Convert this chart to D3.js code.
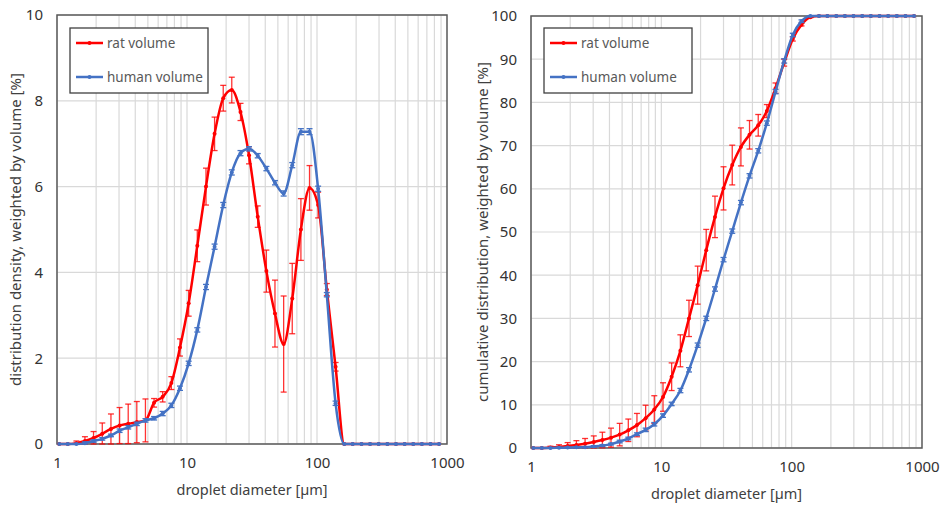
<!DOCTYPE html>
<html>
<head>
<meta charset="utf-8">
<script src="https://cdn.jsdelivr.net/npm/d3@7"></script>
<style>
  body { margin: 0; background: #fff; }
  svg { display: block; font-family: "Noto Sans", sans-serif; }
</style>
</head>
<body>
<svg width="941" height="507"></svg>
<script>
// droplet size classes [µm]
var diameters = [1.04, 1.21, 1.41, 1.64, 1.91, 2.23, 2.6, 3.03, 3.53, 4.11, 4.79, 5.58, 6.5, 7.58, 8.83,
  10.3, 12.0, 14.0, 16.3, 19.0, 22.1, 25.8, 30.0, 35.0, 40.8, 47.5, 55.4, 64.5, 75.2, 87.6,
  102, 119, 139, 162, 188, 220, 256, 298, 348, 405, 472, 550, 641, 747, 870];

// distribution density [%]
var ratDensity = [0, 0, 0.02, 0.07, 0.14, 0.24, 0.35, 0.43, 0.47, 0.51, 0.55, 0.96, 1.1, 1.42, 2.25,
  3.28, 4.62, 6.0, 7.23, 8.06, 8.25, 7.74, 6.73, 5.3, 4.03, 3.04, 2.33, 3.39, 5.0, 5.97,
  5.57, 3.6, 1.8, 0, 0, 0, 0, 0, 0, 0, 0, 0, 0, 0, 0];
var ratDensityErr = [0, 0, 0.05, 0.1, 0.15, 0.25, 0.35, 0.42, 0.46, 0.48, 0.5, 0.1, 0.12, 0.15, 0.2,
  0.3, 0.37, 0.43, 0.39, 0.3, 0.3, 0.2, 0.2, 0.25, 0.49, 0.78, 1.12, 0.82, 0.72, 0.52,
  0.3, 0.14, 0.1, 0, 0, 0, 0, 0, 0, 0, 0, 0, 0, 0, 0];
var humanDensity = [0, 0, 0, 0.02, 0.07, 0.12, 0.2, 0.31, 0.39, 0.47, 0.55, 0.6, 0.71, 0.9, 1.3,
  1.88, 2.66, 3.66, 4.6, 5.57, 6.33, 6.78, 6.88, 6.72, 6.42, 6.09, 5.84, 6.5, 7.28, 7.28,
  5.95, 3.48, 0.95, 0, 0, 0, 0, 0, 0, 0, 0, 0, 0, 0, 0];
var humanDensityErr = [0, 0, 0, 0.03, 0.03, 0.03, 0.03, 0.04, 0.04, 0.04, 0.04, 0.04, 0.05, 0.05, 0.05,
  0.05, 0.05, 0.06, 0.06, 0.06, 0.06, 0.06, 0.05, 0.05, 0.05, 0.05, 0.06, 0.06, 0.07, 0.07,
  0.06, 0.05, 0.05, 0, 0, 0, 0, 0, 0, 0, 0, 0, 0, 0, 0];

// cumulative distribution [%]
var ratCumulative = [0, 0, 0.1, 0.25, 0.45, 0.7, 1.0, 1.4, 1.85, 2.4, 3.1, 4.1, 5.3, 6.9, 8.9,
  11.8, 16.5, 22.5, 30.0, 37.7, 45.8, 53.5, 60.1, 65.5, 69.7, 72.5, 74.7, 78.0, 83.3, 89.2,
  94.7, 98.0, 99.7, 100, 100, 100, 100, 100, 100, 100, 100, 100, 100, 100, 100];
var ratCumulativeErr = [0, 0, 0.3, 0.5, 0.8, 1.0, 1.2, 1.4, 1.8, 2.2, 2.6, 2.6, 2.7, 3.0, 3.2,
  3.3, 3.2, 3.7, 4.2, 4.4, 4.8, 4.8, 5.0, 4.6, 4.4, 3.3, 2.5, 1.5, 1.2, 0.8,
  0.5, 0.3, 0.1, 0, 0, 0, 0, 0, 0, 0, 0, 0, 0, 0, 0];
var humanCumulative = [0, 0, 0, 0.05, 0.1, 0.15, 0.2, 0.35, 0.55, 0.9, 1.5, 2.2, 3.2, 4.2, 5.5,
  7.5, 10.2, 13.3, 18.1, 23.8, 30.0, 36.8, 43.6, 50.2, 56.8, 63.0, 68.8, 75.2, 82.5, 89.6,
  95.6, 98.8, 100, 100, 100, 100, 100, 100, 100, 100, 100, 100, 100, 100, 100];
var humanCumulativeErr = [0, 0, 0, 0.1, 0.1, 0.1, 0.1, 0.2, 0.2, 0.2, 0.3, 0.3, 0.3, 0.4, 0.4,
  0.4, 0.4, 0.5, 0.5, 0.5, 0.5, 0.5, 0.5, 0.5, 0.5, 0.5, 0.5, 0.5, 0.5, 0.5,
  0.4, 0.3, 0.1, 0, 0, 0, 0, 0, 0, 0, 0, 0, 0, 0, 0];

var xTicks = [1, 10, 100, 1000];
var densityTicks = [0, 2, 4, 6, 8, 10];
var cumulativeTicks = [0, 10, 20, 30, 40, 50, 60, 70, 80, 90, 100];
var seriesNames = ["rat volume", "human volume"];
var colors = ["#ff0000", "#4472c4"];

var svg = d3.select("svg");

function rows(values, errs) {
  return diameters.map(function (d, i) {
    return { d: d, v: values[i], e: errs[i] };
  });
}

function drawPanel(cfg) {
  var x = d3.scaleLog().domain([1, 1000]).range([cfg.left, cfg.right]);
  var y = d3.scaleLinear().domain([0, cfg.yMax]).range([cfg.bottom, cfg.top]);

  var g = svg.append("g");

  // minor + major vertical grid
  var vLines = [];
  [1, 10, 100].forEach(function (dec) {
    for (var m = 1; m <= 9; m++) vLines.push(dec * m);
  });
  g.append("g")
    .selectAll("line")
    .data(vLines)
    .enter()
    .append("line")
    .attr("x1", (d) => x(d))
    .attr("x2", (d) => x(d))
    .attr("y1", cfg.top)
    .attr("y2", cfg.bottom)
    .style("stroke", "#d9d9d9")
    .style("stroke-width", 1.2);

  g.append("g")
    .selectAll("line")
    .data(cfg.yTicks)
    .enter()
    .append("line")
    .attr("x1", cfg.left)
    .attr("x2", cfg.right)
    .attr("y1", (d) => y(d))
    .attr("y2", (d) => y(d))
    .style("stroke", "#d9d9d9")
    .style("stroke-width", 1.2);

  // plot frame
  g.append("rect")
    .attr("x", cfg.left)
    .attr("y", cfg.top)
    .attr("width", cfg.right - cfg.left)
    .attr("height", cfg.bottom - cfg.top)
    .style("fill", "none")
    .style("stroke", "#595959")
    .style("stroke-width", 1.5);

  // axes (labels only)
  var xAxis = g.append("g")
    .attr("transform", "translate(0," + (cfg.bottom + 13) + ")")
    .call(d3.axisBottom(x).tickValues(xTicks).tickFormat(d3.format("d")).tickSize(0).tickPadding(0));
  var yAxis = g.append("g")
    .attr("transform", "translate(" + (cfg.left - 14) + ",0)")
    .call(d3.axisLeft(y).tickValues(cfg.yTicks).tickFormat(d3.format("d")).tickSize(0).tickPadding(0));
  [xAxis, yAxis].forEach(function (a) {
    a.select(".domain").remove();
    a.selectAll("text")
      .style("font-family", "Noto Sans")
      .style("font-size", "15px")
      .style("fill", "#333");
  });

  g.append("text")
    .attr("x", (cfg.left + cfg.right) / 2)
    .attr("y", cfg.bottom + 51)
    .attr("text-anchor", "middle")
    .style("font-size", "14.5px")
    .style("fill", "#404040")
    .text("droplet diameter [µm]");

  g.append("text")
    .attr("text-anchor", "middle")
    .attr("transform", "translate(" + cfg.titleX + "," + (cfg.top + cfg.bottom) / 2 + ")rotate(-90)")
    .style("font-size", "15px")
    .style("fill", "#404040")
    .text(cfg.yTitle);

  var line = d3.line()
    .x((d) => x(d.d))
    .y((d) => y(d.v))
    .curve(d3.curveMonotoneX);

  cfg.series.forEach(function (s, si) {
    var data = s;
    var col = colors[si];
    var eb = g.append("g");
    var withErr = data.filter((d) => d.e > 0);
    eb.selectAll(".bar")
      .data(withErr)
      .enter()
      .append("line")
      .attr("x1", (d) => x(d.d))
      .attr("x2", (d) => x(d.d))
      .attr("y1", (d) => y(Math.max(0, d.v - d.e)))
      .attr("y2", (d) => y(Math.min(cfg.yMax, d.v + d.e)))
      .style("stroke", col)
      .style("stroke-opacity", si == 0 ? 0.8 : 1)
      .style("stroke-width", 1.3);
    [-1, 1].forEach(function (sign) {
      eb.selectAll(".cap" + sign)
        .data(withErr)
        .enter()
        .append("line")
        .attr("x1", (d) => x(d.d) - 3)
        .attr("x2", (d) => x(d.d) + 3)
        .attr("y1", (d) => y(Math.max(0, Math.min(cfg.yMax, d.v + sign * d.e))))
        .attr("y2", (d) => y(Math.max(0, Math.min(cfg.yMax, d.v + sign * d.e))))
        .style("stroke", col)
        .style("stroke-opacity", si == 0 ? 0.8 : 1)
        .style("stroke-width", 1.3);
    });

    g.append("path")
      .datum(data)
      .attr("d", line)
      .style("fill", "none")
      .style("stroke", col)
      .style("stroke-width", 2.5);

    g.append("g")
      .selectAll("circle")
      .data(data)
      .enter()
      .append("circle")
      .attr("cx", (d) => x(d.d))
      .attr("cy", (d) => y(d.v))
      .attr("r", 2)
      .style("fill", col);
  });

  // legend
  var lg = g.append("g").attr("transform", "translate(" + cfg.legend[0] + "," + cfg.legend[1] + ")");
  lg.append("rect")
    .attr("width", cfg.legend[2])
    .attr("height", 65)
    .style("fill", "#fff")
    .style("stroke", "#404040")
    .style("stroke-width", 1.3);
  seriesNames.forEach(function (name, i) {
    var ly = 15 + i * 34;
    lg.append("line")
      .attr("x1", 6)
      .attr("x2", 33)
      .attr("y1", ly)
      .attr("y2", ly)
      .style("stroke", colors[i])
      .style("stroke-width", 2.5);
    lg.append("circle")
      .attr("cx", 19.5)
      .attr("cy", ly)
      .attr("r", 2)
      .style("fill", colors[i]);
    lg.append("text")
      .attr("x", 37)
      .attr("y", ly + 5)
      .style("font-size", "13.5px")
      .style("fill", "#595959")
      .text(name);
  });
}

drawPanel({
  left: 57, right: 447, top: 15, bottom: 444,
  yMax: 10, yTicks: densityTicks, titleX: 21,
  yTitle: "distribution density, weighted by volume [%]",
  legend: [70, 28, 138],
  series: [rows(ratDensity, ratDensityErr), rows(humanDensity, humanDensityErr)]
});

drawPanel({
  left: 531, right: 922, top: 16, bottom: 448,
  yMax: 100, yTicks: cumulativeTicks, titleX: 488,
  yTitle: "cumulative distribution, weighted by volume [%]",
  legend: [544, 28, 148],
  series: [rows(ratCumulative, ratCumulativeErr), rows(humanCumulative, humanCumulativeErr)]
});
</script>
</body>
</html>
